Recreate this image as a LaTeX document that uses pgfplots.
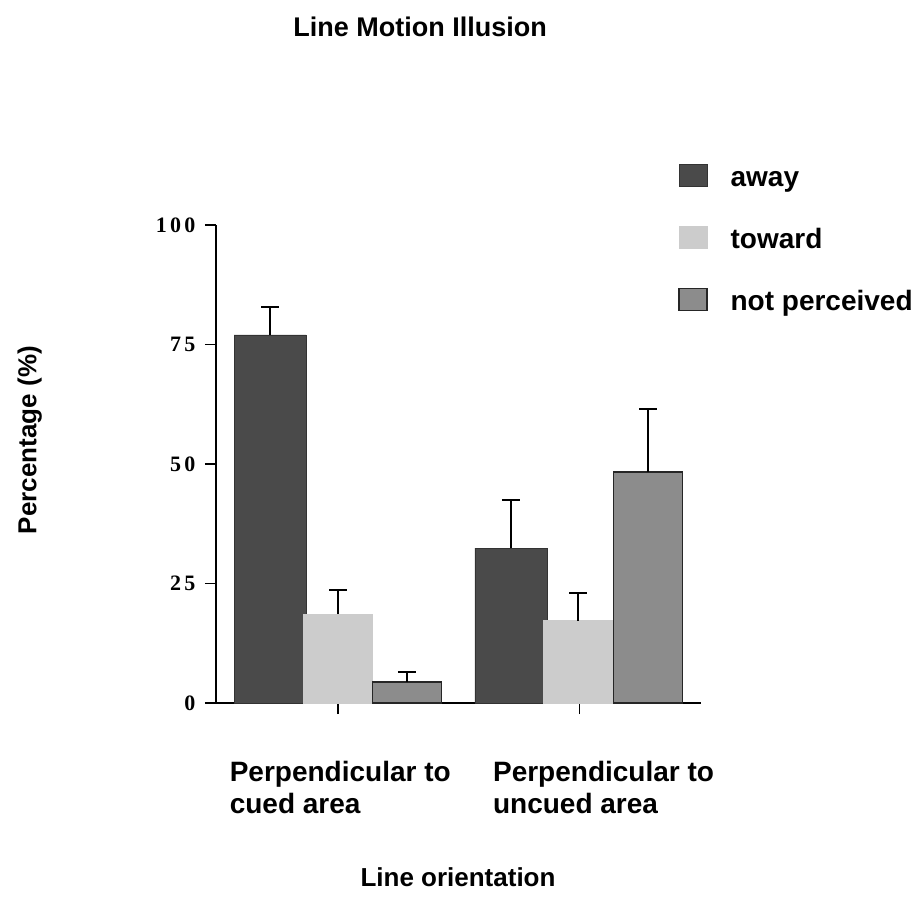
\documentclass[border=0pt]{standalone}
\usepackage{pgfplots}
\pgfplotsset{compat=1.18}
\usepackage{fontspec}
\setmainfont{Liberation Sans}
\newfontfamily\numfont{Liberation Serif}[LetterSpace=15]
\definecolor{awaycol}{gray}{0.29}
\definecolor{towardcol}{gray}{0.80}
\definecolor{npcol}{gray}{0.55}
\pgfplotsset{sqlegend/.style={legend image code/.code={\draw[##1] (0pt,-7pt) rectangle (28pt,15pt);}}}
\begin{document}
\begin{tikzpicture}
\useasboundingbox (-216pt,-212pt) rectangle (702pt,703pt);
\begin{axis}[
  at={(0pt,0pt)}, anchor=south west,
  scale only axis, width=485pt, height=478pt,
  xmin=-0.506, xmax=1.504, ymin=0, ymax=100,
  axis x line*=bottom, axis y line*=left,
  axis line style={line width=1.6pt,-},
  xtick={0,1}, ytick={0,25,50,75,100},
  xticklabels={{Perpendicular to\\cued area},{\hspace*{22pt}Perpendicular to\\\hspace*{22pt}uncued area}},
  tick align=outside, major tick length=11pt,
  tick style={line width=1.6pt, black},
  /pgf/number format/assume math mode=true,
  yticklabel style={font=\numfont\bfseries\fontsize{22}{22}\selectfont, xshift=-6pt},
  xticklabel style={font=\bfseries\fontsize{28}{32}\selectfont, align=left, anchor=north west, inner sep=0pt, xshift=-108.5pt, yshift=-47pt},
  title={Line Motion Illusion},
  title style={at={(rel axis cs:0.421,1.401)}, anchor=center, font=\bfseries\fontsize{27}{27}\selectfont},
  xlabel={Line orientation},
  xlabel style={at={(rel axis cs:0.499,-0.364)}, anchor=center, font=\bfseries\fontsize{26}{26}\selectfont},
  ylabel={Percentage (\%)},
  ylabel style={at={(rel axis cs:-0.384,0.55)}, anchor=center, font=\bfseries\fontsize{26}{26}\selectfont},
  legend style={at={(rel axis cs:0.946,1.132)}, anchor=north west, draw=none, fill=none,
    font=\bfseries\fontsize{28}{28}\selectfont, row sep=33pt,
    nodes={inner sep=0pt, text height=21pt, text depth=6pt},
    /tikz/every odd column/.style={column sep=23pt}},
  legend cell align=left,
  error bars/y dir=plus, error bars/y explicit,
  error bars/error mark options={rotate=90, mark size=9pt, line width=1.6pt, black},
  error bars/error bar style={line width=1.6pt, black},
]
\addplot[ybar, bar width=72pt, bar shift=0pt, fill=awaycol, draw=black!80, line width=0.6pt, sqlegend]
  coordinates {(-0.282,77.0) +- (0,5.8) (0.716,32.4) +- (0,10.1)};
\addplot[ybar, bar width=69pt, bar shift=0pt, fill=towardcol, draw=towardcol, line width=0.6pt, sqlegend]
  coordinates {(0,18.6) +- (0,5.0) (0.995,17.2) +- (0,5.8)};
\addplot[ybar, bar width=69pt, bar shift=0pt, fill=npcol, draw=black!85, line width=1.6pt, sqlegend]
  coordinates {(0.285,4.4) +- (0,2.1) (1.285,48.3) +- (0,13.2)};
\legend{away, toward, not perceived}
\end{axis}
\end{tikzpicture}
\end{document}
